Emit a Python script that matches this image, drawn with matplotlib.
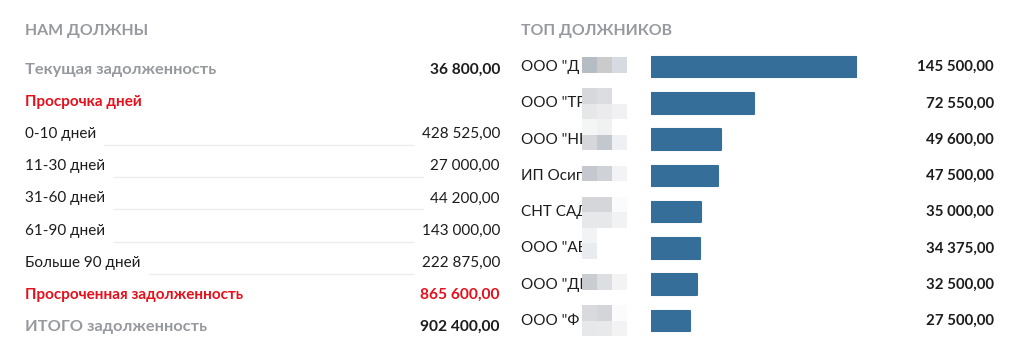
import matplotlib
matplotlib.use("Agg")
import matplotlib.pyplot as plt
from matplotlib.transforms import blended_transform_factory
from matplotlib.patches import Rectangle

plt.rcParams['font.family'] = ['Lato', 'DejaVu Sans']

# left block: "НАМ ДОЛЖНЫ"
left_labels = ["Текущая задолженность", "Просрочка дней", "0-10 дней", "11-30 дней",
               "31-60 дней", "61-90 дней", "Больше 90 дней",
               "Просроченная задолженность", "ИТОГО задолженность"]
left_values = [36800.00, None, 428525.00, 27000.00, 44200.00, 143000.00, 222875.00,
               865600.00, 902400.00]
left_kinds = ["grey", "red_head", "bucket", "bucket", "bucket", "bucket", "bucket",
              "red", "grey"]

# right block: "ТОП ДОЛЖНИКОВ" (names are truncated / blurred in the source)
debtors = ['ООО "Д', 'ООО "ТР', 'ООО "НЕ', 'ИП Осип', 'СНТ САД', 'ООО "АЕ', 'ООО "ДЕ', 'ООО "Ф']
debts = [145500.00, 72550.00, 49600.00, 47500.00, 35000.00, 34375.00, 32500.00, 27500.00]

# blur mosaic next to the names: (grid row, grid col, colour)
mosaic = [(0, 0, '#b6bcc3'), (0, 1, '#cbcbcb'), (0, 2, '#d6dae1'),
          (2, 0, '#d6d8dc'), (2, 1, '#dcdde0'),
          (3, 0, '#e6e7e9'), (3, 1, '#ebebee'), (3, 2, '#f1f1f3'),
          (4, 0, '#f4f5f5'), (4, 1, '#f0f1f1'),
          (5, 0, '#d6d7da'), (5, 1, '#c3c7ce'), (5, 2, '#eef0f3'),
          (7, 0, '#c5c9cf'), (7, 1, '#cfd3d7'), (7, 2, '#f3f3f5'),
          (9, 0, '#d5d6d9'), (9, 1, '#d5d6d9'), (9, 2, '#fafbfc'),
          (10, 0, '#e7e8ea'), (10, 1, '#e7e8ea'), (10, 2, '#f1f2f3'),
          (11, 0, '#f2f3f5'), (12, 0, '#e8ebef'),
          (14, 0, '#c9ccd0'), (14, 1, '#dcdee1'), (14, 2, '#f3f3f4'),
          (16, 0, '#d9dadd'), (16, 1, '#d4d5d8'), (16, 2, '#fbfbfc'),
          (17, 0, '#e7e8ea'), (17, 1, '#e8e9eb'), (17, 2, '#f3f3f4')]

GREY = '#96999e'
RED = '#e5101b'
DARK = '#1c1c1c'
BAR = '#356e99'


def money(v):
    return f"{v:,.2f}".replace(",", " ").replace(".", ",")


fig = plt.figure(figsize=(10.24, 3.61), dpi=100)
ax = fig.add_axes([0, 0, 1, 1])
ax.set_xlim(0, 1024)
ax.set_ylim(361, 0)
ax.axis('off')
renderer = fig.canvas.get_renderer()

# titles
ax.text(25, 31, "НАМ ДОЛЖНЫ", color=GREY, fontsize=11.4, fontweight='bold', va='center')
ax.text(521, 31, "ТОП ДОЛЖНИКОВ", color=GREY, fontsize=11.4, fontweight='bold', va='center')

# left table
for i, (lab, val, kind) in enumerate(zip(left_labels, left_values, left_kinds)):
    y = 70 + i * 32.1
    if kind == "grey":
        lc, lw, vc, vw = GREY, 'bold', DARK, 'bold'
    elif kind.startswith("red"):
        lc, lw, vc, vw = RED, 'bold', RED, 'bold'
    else:
        lc, lw, vc, vw = DARK, 'normal', DARK, 'normal'
    fs = 11.8 if kind == "grey" else 11
    t = ax.text(25, y, lab, color=lc, fontsize=fs, fontweight=lw, va='center')
    if val is None:
        continue
    v = ax.text(500, y, money(val), color=vc, fontsize=11 if vw == 'normal' else 11.2,
                fontweight=vw, va='center', ha='right')
    if kind == "bucket":
        x0 = t.get_window_extent(renderer).x1 + 8
        x1 = v.get_window_extent(renderer).x0 - 8
        ax.plot([x0, x1], [y + 11, y + 11], color='#ededed', lw=1, solid_capstyle='butt')

# bars
axb = fig.add_axes([651 / 1024, (361 - 339) / 361, 206 / 1024, 290 / 361])
axb.set_xlim(0, max(debts))
axb.set_ylim(len(debts) - 0.5, -0.5)
axb.axis('off')
axb.barh(range(len(debts)), debts, height=0.56, color=BAR, edgecolor=BAR,
         linewidth=1.5, joinstyle='round')

tr = blended_transform_factory(ax.transData, axb.transData)
for i, (name, d) in enumerate(zip(debtors, debts)):
    ax.text(521, i, name, transform=tr, color=DARK, fontsize=11, va='center')
    ax.text(994, i, money(d), transform=tr, color=DARK, fontsize=10.8,
            fontweight='bold', va='center', ha='right')

for k, c, col in mosaic:
    ax.add_patch(Rectangle((582 + c * 15, 57 + k * 15.5), 15, 15.5, facecolor=col,
                           edgecolor='none', zorder=3))

fig.savefig('out.png', dpi=100, facecolor='white')
